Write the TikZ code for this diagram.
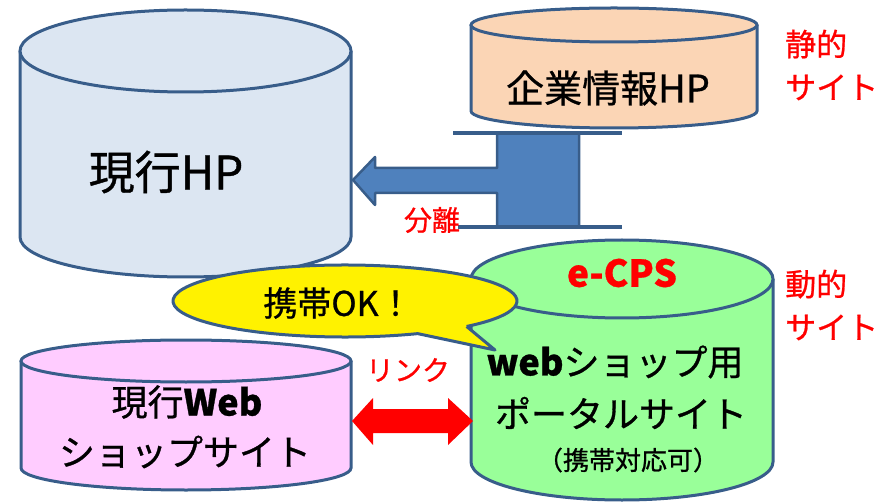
\documentclass[tikz,border=0pt]{standalone}
\usepackage{fontspec}
\setmainfont{Noto Sans CJK JP}[FakeBold=0.8]
\usetikzlibrary{calc}
\definecolor{rim}{HTML}{385D8A}
\definecolor{hpblue}{HTML}{DCE6F2}
\definecolor{peach}{HTML}{FBD5B5}
\definecolor{mint}{HTML}{99FF99}
\definecolor{pink}{HTML}{FFCCFF}
\definecolor{arrowblue}{HTML}{4F81BD}
\tikzset{
  cyl/.style={draw=rim, line width=3pt},
  redlbl/.style={text=red, inner sep=0pt, font=\fontsize{31}{43}\selectfont},
  cyltxt/.style={inner sep=0pt},
}
% 円柱: #1 左, #2 右, #3 上面の中心y, #4 上面の半径y, #5 底面の中心y, #6 底面の半径y, #7 色
\newcommand{\dbcyl}[7]{%
  \pgfmathsetmacro{\cylcx}{(#1+#2)/2}%
  \pgfmathsetmacro{\cylrx}{(#2-#1)/2}%
  \filldraw[cyl, fill=#7] (#1,#3) -- (#1,#5) arc[start angle=180, end angle=0, x radius=\cylrx, y radius=#6] -- (#2,#3); % 側面
  \filldraw[cyl, fill=#7] (\cylcx,#3) ellipse [x radius=\cylrx, y radius=#4]; % 上面
}
\begin{document}
\begin{tikzpicture}[x=1pt, y=-1pt]
  \useasboundingbox (0,0) rectangle (888,502);
  % 円柱
  \dbcyl{20}{351}{51}{41}{237}{40}{hpblue}   % 現行HP
  \dbcyl{471}{757}{25}{17}{111}{17}{peach}   % 企業情報HP
  \dbcyl{471}{773}{279}{39}{462}{38}{mint}   % e-CPS
  \dbcyl{21}{351}{361}{21}{468}{22}{pink}    % 現行Web
  % 分離の矢印
  \filldraw[cyl, line width=2.5pt, fill=arrowblue, line join=round]
    (497,133) -- (579,133) -- (579,227) -- (497,227) -- (497,193) -- (375,193) -- (375,205)
    -- (353,180) -- (375,157) -- (375,168) -- (497,168) -- cycle;
  \draw[rim, line width=4pt] (453,133) -- (622,133);
  \draw[rim, line width=4pt] (458,227) -- (622,227);
  % リンクの矢印
  \coordinate (linkL) at (352,421);
  \coordinate (linkR) at (473,421);
  \fill[red] (linkL) -- ++(21,-23) -- ++(0,11) -- ++(75,0) -- ++(0,-11) -- (linkR)
    -- ++(-25,24) -- ++(0,-12) -- ++(-75,0) -- ++(0,12) -- cycle;
  % 吹き出し
  \filldraw[cyl, fill=yellow, line join=round] ($(345,301)+(45:172 and 36)$)
    -- (495,350) -- ($(345,301)+(65:172 and 36)$) arc[start angle=65, end angle=405, x radius=172, y radius=36];
  % 文字
  \node[cyltxt] (hpname) at (166,172) {\fontsize{46}{48}\selectfont 現行HP};
  \node[cyltxt] (kigyou) at (608,88) {\fontsize{38}{40}\selectfont 企業情報HP};
  \node[cyltxt, text=red] (ecps) at (622,273) {\fontsize{37}{38}\selectfont\bfseries e-CPS};
  \node[cyltxt] (portalA) at (615,362) {\fontsize{36}{38}\selectfont{\bfseries web}ショップ用};
  \node[cyltxt] (portalB) at (621,413) {\fontsize{36}{38}\selectfont ポータルサイト};
  \node[cyltxt] (portalC) at (628,460) {\fontsize{26}{28}\selectfont （携帯対応可）};
  \node[cyltxt] (webA) at (187,402) {\fontsize{36}{38}\selectfont 現行{\bfseries Web}};
  \node[cyltxt] (webB) at (185,452) {\fontsize{36}{38}\selectfont ショップサイト};
  \node[cyltxt] (bubble) at (338,303) {\fontsize{34}{36}\selectfont 携帯OK！};
  \node[redlbl, align=left, anchor=west] (static) at (785,65) {静的\\サイト};
  \node[redlbl, align=left, anchor=west] (dynamic) at (785,305) {動的\\サイト};
  \node[redlbl, font=\fontsize{28}{30}\selectfont] (bunri) at (432,220) {分離};
  \node[redlbl, font=\fontsize{28}{30}\selectfont] (link) at (408,370) {リンク};
\end{tikzpicture}
\end{document}
